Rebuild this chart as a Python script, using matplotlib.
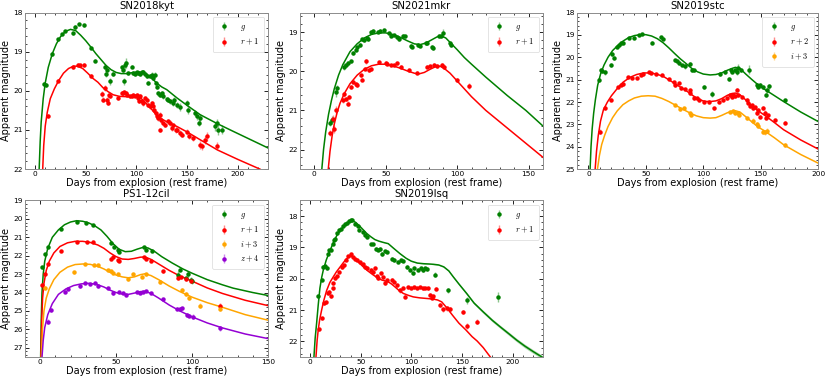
import numpy as np
import matplotlib
matplotlib.use("Agg")
import matplotlib.pyplot as plt
from matplotlib.colors import to_rgba
from matplotlib.ticker import MultipleLocator, AutoMinorLocator

plt.rcParams['font.family'] = 'DejaVu Sans'
plt.rcParams['mathtext.fontset'] = 'cm'

# photometry: days, magnitude, error   /   model: days, magnitude

# ---------------- SN2018kyt ----------------
kyt_g = np.array([[9.2,19.82,0.05],[10.5,19.85,0.05],[17,19.06,0.04],[23,18.68,0.04],[27,18.55,0.03],[29.6,18.47,0.03],
    [37,18.53,0.04],[39.5,18.37,0.04],[43,18.30,0.03],[48,18.33,0.04],[55,18.90,0.03],[59,19.23,0.04],[69,19.38,0.06],
    [70,19.56,0.08],[71.3,19.46,0.06],[74,19.76,0.08],[77.2,19.56,0.05],[85.5,19.38,0.05],[87.1,19.46,0.06],[87.8,19.76,0.08],
    [88.8,19.34,0.1],[89.7,19.29,0.12],[92.1,19.55,0.05],[95.3,19.38,0.04],[97,19.55,0.05],[98.6,19.57,0.05],[100.3,19.53,0.04],
    [101.9,19.55,0.04],[103.6,19.57,0.04],[105.2,19.53,0.04],[106.9,19.51,0.04],[108.5,19.57,0.05],[110.2,19.63,0.05],
    [111.8,19.80,0.06],[113.5,19.63,0.05],[115.1,19.59,0.06],[116.7,19.68,0.05],[118.4,19.59,0.06],[119.4,19.80,0.06],
    [120.7,19.89,0.07],[121.7,20.06,0.06],[123.3,20.10,0.06],[125,20.06,0.06],[126.6,20.14,0.07],[129.9,20.21,0.06],
    [131.6,20.23,0.06],[133.2,20.27,0.07],[135.8,20.30,0.08],[137.2,20.23,0.06],[139.8,20.36,0.07],[143.1,20.42,0.1],
    [150.3,20.31,0.08],[151.3,20.48,0.1],[157.9,20.57,0.08],[159.5,20.65,0.1],[162.8,20.70,0.1],[162.2,20.81,0.08],
    [177.6,20.91,0.12],[179.3,20.81,0.1],[181,20.99,0.15],[184.2,20.99,0.12]])
kyt_r = np.array([[12.5,20.64,0.06],[23,19.74,0.04],[37,19.40,0.04],[42,19.33,0.04],[44.5,19.35,0.04],[48.4,19.34,0.04],
    [55.4,19.62,0.04],[65.7,20.08,0.08],[67.4,20.23,0.06],[69.5,19.92,0.08],[70.7,20.23,0.06],[72,20.30,0.05],[73.3,20.10,0.05],
    [74,20.14,0.05],[82.2,20.19,0.04],[85.5,20.06,0.04],[87.1,20.06,0.04],[87.8,20.02,0.04],[89.7,20.06,0.04],[90.4,20.10,0.04],
    [93.7,20.14,0.04],[95.3,20.14,0.04],[97,20.10,0.04],[98.6,20.13,0.04],[100.3,20.10,0.04],[101.9,20.19,0.04],[102.9,20.27,0.05],
    [103.6,20.14,0.05],[105.2,20.27,0.05],[106.9,20.31,0.08],[108.5,20.19,0.05],[110.2,20.23,0.05],[111.8,20.36,0.05],
    [113.5,20.40,0.06],[115.1,20.31,0.05],[116.1,20.40,0.06],[117.7,20.48,0.06],[119.4,20.57,0.06],[120,20.65,0.07],
    [121.7,20.70,0.06],[123.3,20.61,0.06],[124,20.74,0.07],[123.3,20.99,0.05],[126.6,20.82,0.06],[128.3,20.87,0.06],
    [131.6,20.78,0.06],[133.2,20.82,0.07],[134.9,20.95,0.07],[136.5,20.87,0.06],[139.1,20.99,0.08],[140.4,20.99,0.06],
    [143.1,21.08,0.07],[144.7,21.12,0.07],[150.3,21.04,0.06],[152.3,21.16,0.07],[155.6,21.21,0.07],[162.8,21.38,0.1],
    [164.5,21.42,0.08],[167.8,21.25,0.1],[169.4,21.16,0.12],[179.3,21.40,0.08]])
kyt_g_fit = np.array([[4,22.0],[5,21.3],[6,20.8],[8,20.2],[10,19.8],[13,19.4],[17,19.05],[21,18.8],[25,18.62],[30,18.48],
    [35,18.43],[40,18.46],[45,18.58],[50,18.72],[55,18.88],[60,19.05],[65,19.2],[70,19.35],[75,19.46],[80,19.53],[85,19.56],
    [90,19.56],[95,19.54],[100,19.52],[105,19.52],[110,19.57],[115,19.67],[120,19.8],[125,19.9],[130,19.97],[140,20.18],
    [150,20.37],[163,20.61],[180,20.84],[196,21.04],[213,21.25],[230,21.46]])
kyt_r_fit = np.array([[7.5,22.0],[8.5,21.4],[10,20.9],[12,20.55],[15,20.2],[19,19.95],[23,19.75],[28,19.55],[33,19.43],
    [38,19.37],[42,19.37],[47,19.43],[52,19.55],[57,19.68],[62,19.78],[67,19.92],[72,20.02],[77,20.1],[83,20.14],[90,20.15],
    [97,20.15],[101,20.13],[105,20.2],[110,20.33],[115,20.47],[120,20.62],[125,20.72],[130,20.79],[140,20.91],[150,21.05],
    [163,21.25],[180,21.51],[200,21.75],[222,22.0]])

# ---------------- SN2021mkr ----------------
mkr_g = np.array([[11.2,21.32,0.08],[12.1,21.25,0.1],[15.1,20.53,0.12],[15.8,20.44,0.1],[20.5,19.88,0.08],[22.1,19.84,0.06],
    [23.3,19.80,0.05],[25.6,19.75,0.05],[27.2,19.54,0.05],[29.1,19.45,0.04],[30.2,19.39,0.04],[32.1,19.33,0.04],[33.7,19.18,0.04],
    [34.9,19.2,0.04],[36.7,19.15,0.04],[37.7,19.18,0.04],[40,19.0,0.04],[40.9,18.96,0.04],[44.9,19.0,0.03],[46,18.96,0.03],
    [48.8,18.94,0.03],[52.3,19.03,0.03],[53.5,19.09,0.03],[55.8,19.07,0.03],[58.1,19.13,0.04],[59.3,19.18,0.04],[62.3,19.09,0.03],
    [63.3,19.11,0.03],[67.4,19.35,0.04],[68.6,19.37,0.04],[72.6,19.33,0.04],[74,19.35,0.04],[77.9,19.28,0.04],[79.1,19.27,0.04],
    [82.6,19.37,0.04],[83.3,19.41,0.05],[87.2,19.11,0.05],[88.4,19.09,0.05],[90.2,19.03,0.1],[94.9,19.28,0.04],[96,19.33,0.04]])
mkr_r = np.array([[11.2,21.58,0.08],[12.8,21.21,0.08],[13.5,21.47,0.1],[15.1,21.0,0.1],[19.8,20.74,0.06],[20.9,20.59,0.06],
    [21.9,20.70,0.05],[23.3,20.83,0.06],[24,20.65,0.05],[26,20.41,0.05],[27.4,20.27,0.05],[29.3,20.33,0.05],[30.2,20.35,0.05],
    [32.6,20.1,0.04],[33.7,20.22,0.04],[35.3,19.93,0.05],[36.3,19.75,0.06],[38.4,19.97,0.04],[39.5,19.93,0.04],[45.3,19.77,0.04],
    [50,19.78,0.03],[51.2,19.81,0.03],[54,19.84,0.03],[55.8,19.84,0.03],[57.7,19.80,0.03],[60.5,19.88,0.04],[66.3,19.97,0.04],
    [72.1,20.04,0.04],[79.1,19.88,0.04],[80.9,19.87,0.04],[83.7,19.84,0.05],[86,19.87,0.05],[89.5,19.84,0.04],[90.7,19.88,0.05],
    [100,20.23,0.05],[108.1,20.38,0.07]])
mkr_g_fit = np.array([[5.3,22.5],[6.5,22.0],[8,21.55],[10,21.1],[12,20.75],[14,20.45],[17,20.1],[20,19.83],[25,19.5],
    [30,19.3],[35,19.15],[40,19.06],[45,19.02],[50,19.02],[55,19.06],[60,19.13],[65,19.22],[70,19.3],[74,19.32],[78,19.28],
    [82,19.2],[86,19.12],[89,19.1],[92,19.15],[96,19.3],[100,19.45],[105,19.65],[110,19.82],[120,20.15],[135,20.62],
    [148,21.0],[160,21.4]])
mkr_r_fit = np.array([[9.8,22.5],[11,22.05],[12.5,21.65],[14,21.35],[16,21.05],[18,20.82],[21,20.57],[25,20.32],[30,20.1],
    [35,19.95],[40,19.86],[45,19.82],[50,19.82],[55,19.86],[60,19.92],[65,19.99],[70,20.05],[73,20.07],[77,20.03],[81,19.95],
    [85,19.88],[88,19.87],[91,19.93],[95,20.05],[100,20.25],[105,20.45],[110,20.65],[120,21.0],[135,21.45],[150,21.9],[160,22.2]])

# ---------------- SN2019stc ----------------
stc_g = np.array([[9.2,21.01,0.1],[10.7,20.56,0.1],[12.2,20.62,0.08],[14.2,20.68,0.1],[19.4,20.34,0.08],[20.8,19.85,0.08],
    [22.3,20.04,0.08],[25.1,19.52,0.06],[26.6,19.45,0.06],[28.6,19.37,0.05],[30.3,19.34,0.05],[35.3,19.15,0.05],[39.6,19.12,0.05],
    [44,19.0,0.04],[46.8,18.98,0.04],[55.5,19.34,0.06],[63.3,19.10,0.05],[64.7,19.19,0.05],[75.7,20.12,0.06],[77.2,20.16,0.06],
    [78.6,20.27,0.08],[81.5,20.34,0.06],[84.4,20.41,0.1],[88.7,20.29,0.08],[90.2,20.56,0.08],[92.2,20.59,0.06],[100.9,21.34,0.08],
    [107.5,21.64,0.15],[114.2,20.74,0.08],[119.1,20.68,0.08],[122.8,20.98,0.1],[124,20.56,0.1],[124.9,20.64,0.08],
    [127.7,20.56,0.1],[129.2,20.64,0.15],[130.6,20.49,0.2],[132.7,20.56,0.08],[140.2,20.56,0.2],[146.5,21.23,0.1],
    [148,21.31,0.08],[149.5,21.26,0.1],[152.3,21.34,0.1],[154.6,21.68,0.1],[155.8,21.46,0.12],[157,21.3,0.1],[171.1,21.93,0.06]])
stc_r = np.array([[10.1,23.32,0.1],[14.2,22.28,0.08],[19.4,21.90,0.06],[26,21.34,0.05],[28,21.23,0.05],[30,21.2,0.05],
    [34.4,20.89,0.05],[38.2,20.94,0.04],[42.5,20.94,0.04],[45.4,20.79,0.04],[47.7,20.74,0.04],[52.6,20.68,0.04],[54.5,20.72,0.04],
    [58.4,20.74,0.04],[64.2,20.79,0.05],[69.9,20.98,0.05],[74.3,21.09,0.05],[75.7,21.23,0.08],[78.6,21.16,0.05],[80.6,21.38,0.08],
    [84.4,21.43,0.06],[88.2,21.46,0.06],[88.7,21.61,0.08],[91.6,21.83,0.1],[94.5,21.83,0.06],[96,21.90,0.06],[100.3,21.98,0.06],
    [104.6,21.98,0.06],[109,22.28,0.06],[113.3,21.98,0.06],[117,21.90,0.06],[120.5,21.83,0.06],[123.4,21.68,0.06],[124.9,21.76,0.06],
    [126.3,21.68,0.06],[127.7,21.75,0.06],[129.2,21.46,0.08],[130.6,21.70,0.06],[133.5,21.79,0.06],[137.9,21.90,0.06],
    [139.3,22.05,0.06],[140.8,22.20,0.06],[142.2,22.15,0.06],[143.6,22.28,0.06],[145,22.22,0.06],[146.5,22.50,0.08],
    [148,22.35,0.06],[149.4,22.65,0.08],[152.3,22.28,0.08],[153.8,22.47,0.1],[154.6,22.7,0.08],[156.6,22.58,0.06],
    [162.4,22.80,0.06],[171.1,22.92,0.06]])
stc_i = np.array([[75.7,22.13,0.06],[80.1,22.32,0.06],[82.9,22.28,0.06],[88.7,22.50,0.06],[89.6,22.58,0.06],[123.4,22.43,0.06],
    [125.5,22.38,0.06],[127.7,22.47,0.06],[130.6,22.50,0.06],[131.5,22.58,0.06],[137.9,22.73,0.08],[143.6,22.83,0.1],
    [146.5,22.98,0.08],[148,23.07,0.08],[152.3,23.32,0.1],[153.8,23.36,0.12],[155.8,23.28,0.1],[171.1,23.93,0.1]])
stc_g_fit = np.array([[1.4,25],[2.2,24.0],[3.2,23.2],[4.5,22.5],[6,21.9],[8,21.25],[10.5,20.75],[13.5,20.35],[17,20.0],
    [21,19.7],[25,19.5],[30,19.28],[35,19.12],[40,19.03],[45,18.99],[50,18.99],[55,19.05],[60,19.17],[65,19.35],[70,19.58],
    [75,19.83],[80,20.07],[85,20.28],[90,20.5],[95,20.65],[100,20.75],[106,20.79],[111,20.77],[116,20.7],[121,20.58],
    [125,20.5],[128,20.45],[132,20.5],[137,20.75],[142,20.98],[147,21.2],[153,21.42],[160,21.65],[170,21.98],[185,22.45],
    [200,22.87]])
stc_r_fit = np.array([[5.8,25],[7,24.2],[8.5,23.5],[10.5,22.85],[13,22.35],[16.5,22.0],[20,21.72],[25,21.4],[30,21.12],
    [36,20.9],[42,20.77],[48,20.7],[54,20.7],[60,20.76],[66,20.88],[72,21.07],[78,21.27],[84,21.45],[90,21.68],[96,21.88],
    [101,21.97],[106,21.98],[111,21.95],[116,21.85],[121,21.7],[125,21.62],[128,21.6],[132,21.68],[138,21.95],[143,22.2],
    [148,22.4],[155,22.65],[162,22.92],[170,23.24],[185,23.7],[200,24.1]])
stc_i_fit = np.array([[7.8,25],[9.5,24.4],[11.5,23.9],[14,23.5],[17,23.1],[21,22.7],[25,22.4],[30,22.12],[35,21.95],
    [40,21.82],[46,21.74],[52,21.72],[58,21.74],[64,21.84],[70,21.98],[76,22.15],[82,22.32],[88,22.48],[94,22.62],[100,22.7],
    [106,22.72],[111,22.7],[116,22.6],[121,22.48],[125,22.41],[128,22.39],[132,22.45],[138,22.7],[143,22.92],[148,23.12],
    [155,23.35],[162,23.6],[170,23.91],[185,24.35],[200,24.73]])

# ---------------- PS1-12cil ----------------
cil_g = np.array([[1.5,22.64,0.06],[3,21.91,0.06],[5,21.53,0.05],[13.8,20.55,0.05],[24.1,20.16,0.04],[30.2,20.22,0.04],
    [34.6,20.31,0.05],[46.4,21.31,0.05],[48.6,21.53,0.05],[51.5,21.67,0.05],[52.1,21.82,0.05],[68.3,21.53,0.05],[70,21.67,0.05],
    [73.4,21.73,0.05],[90.9,23.05,0.2],[92,22.76,0.08],[96.3,23.2,0.1],[97.4,23.0,0.15],[99,23.31,0.15],[100,23.4,0.12]])
cil_r = np.array([[1.5,23.58,0.08],[3,23.0,0.07],[5,22.44,0.06],[13.8,21.76,0.05],[24.5,21.25,0.04],[30.7,21.25,0.04],
    [34.6,21.25,0.04],[46.4,22.16,0.05],[48.2,22.09,0.05],[51.5,22.22,0.05],[52.1,22.27,0.05],[68.3,22.09,0.05],[70,22.16,0.05],
    [72.7,22.27,0.05],[81,22.85,0.1],[90.9,23.22,0.12],[93,23.18,0.08],[96.3,23.25,0.1],[99,23.4,0.1],[118.2,24.71,0.15]])
cil_i = np.array([[3.5,23.76,0.1],[22.3,22.89,0.08],[29.6,22.45,0.06],[35.7,22.49,0.06],[38.3,22.49,0.06],[44.9,22.76,0.06],
    [46.6,22.82,0.06],[48.2,22.95,0.06],[51.5,23.0,0.06],[58,23.27,0.08],[60.9,23.0,0.08],[66.8,23.13,0.08],[70,23.0,0.08],
    [78.8,23.44,0.08],[93.7,23.85,0.1],[95.7,24.07,0.1],[97.9,24.31,0.12],[105.1,24.71,0.12],[118.2,24.89,0.12]])
cil_z = np.array([[5,25.58,0.15],[7.2,24.95,0.1],[16.4,23.95,0.08],[18.6,23.8,0.08],[26.3,23.67,0.06],[29.6,23.49,0.06],
    [32.8,23.53,0.06],[36.1,23.49,0.06],[38.3,23.67,0.08],[44.9,23.76,0.06],[48.2,24.04,0.08],[52.1,23.98,0.06],[54.7,24.04,0.06],
    [56.3,24.13,0.06],[63.5,23.98,0.06],[65.7,24.0,0.06],[67.4,23.95,0.06],[70,23.91,0.06],[72.7,24.04,0.06],[80.6,24.35,0.08],
    [89.8,24.89,0.08],[91.9,24.89,0.08],[93.7,24.85,0.08],[96.8,25.22,0.1],[98.1,25.25,0.1],[100.7,25.31,0.15],[118.7,25.95,0.12]])
cil_g_fit = np.array([[0.3,27.5],[0.7,25.5],[1.2,24.0],[2,23.0],[3,22.3],[5,21.6],[8,21.0],[12,20.6],[16,20.32],[20,20.17],
    [24,20.1],[28,20.13],[32,20.22],[36,20.38],[40,20.6],[44,20.95],[48,21.35],[52,21.65],[56,21.78],[60,21.76],[64,21.64],
    [68,21.54],[71,21.58],[75,21.75],[80,22.05],[87,22.4],[94,22.72],[100,22.95],[110,23.3],[120,23.58],[127,23.76],
    [140,24.0],[150,24.16]])
cil_r_fit = np.array([[0.5,27.5],[1,25.5],[1.6,24.3],[2.5,23.5],[4,22.8],[6,22.3],[9,21.85],[13,21.5],[18,21.3],[23,21.22],
    [28,21.22],[33,21.28],[38,21.42],[42,21.6],[46,21.85],[50,22.05],[54,22.18],[58,22.2],[62,22.15],[66,22.08],[69,22.07],
    [73,22.2],[78,22.45],[85,22.8],[92,23.1],[100,23.38],[110,23.75],[120,24.05],[135,24.42],[150,24.71]])
cil_i_fit = np.array([[0.8,27.5],[1.5,26.0],[2.5,25.0],[4,24.3],[6,23.8],[9,23.3],[13,22.9],[18,22.62],[23,22.48],[28,22.45],
    [33,22.47],[38,22.58],[42,22.72],[46,22.9],[50,23.05],[54,23.15],[58,23.2],[62,23.15],[66,23.03],[69,22.98],[73,23.08],
    [78,23.3],[85,23.65],[92,23.95],[100,24.25],[110,24.55],[120,24.8],[135,25.2],[150,25.5]])
cil_z_fit = np.array([[1.2,27.5],[2,26.6],[3,25.9],[5,25.2],[8,24.6],[12,24.1],[17,23.8],[22,23.62],[27,23.53],[32,23.5],
    [37,23.55],[42,23.7],[46,23.87],[50,24.0],[54,24.08],[58,24.1],[62,24.03],[66,23.95],[69,23.93],[73,24.05],[78,24.3],
    [85,24.68],[92,25.0],[100,25.32],[110,25.65],[120,25.92],[135,26.25],[150,26.5]])

# ---------------- SN2019lsq ----------------
lsq_g = np.array([[8.1,20.56,0.05],[11.4,20.03,0.05],[13,19.62,0.05],[14.6,19.6,0.05],[16.3,19.67,0.04],[18,19.2,0.04],
    [19,19.09,0.04],[20.3,19.07,0.04],[22.3,18.88,0.04],[23.6,18.77,0.03],[24.6,18.72,0.03],[26.9,18.54,0.03],[28.8,18.45,0.03],
    [30.2,18.4,0.03],[32.1,18.33,0.03],[34.4,18.24,0.03],[36.1,18.22,0.03],[38.7,18.16,0.03],[40,18.11,0.03],[41,18.14,0.03],
    [44.3,18.24,0.03],[47.6,18.33,0.03],[48.6,18.43,0.04],[51.9,18.51,0.03],[54.2,18.61,0.03],[56.5,18.67,0.03],[59.8,18.88,0.03],
    [61.8,18.9,0.03],[65.1,19.04,0.04],[67.4,19.07,0.04],[69,19.04,0.04],[70.7,19.2,0.06],[74,19.11,0.04],[76.2,19.14,0.04],
    [80.5,19.36,0.04],[82.8,19.41,0.04],[87.1,19.46,0.05],[89.4,19.41,0.04],[91.4,19.43,0.05],[96,19.62,0.06],[98.6,19.71,0.05],
    [101.3,19.83,0.06],[102.6,19.67,0.05],[106.9,19.71,0.05],[109.2,19.67,0.05],[111.8,19.73,0.05],[113.5,19.67,0.05],
    [115.1,19.7,0.05],[123.3,19.87,0.08],[136.5,20.37,0.08],[154.6,20.69,0.12],[185.9,20.58,0.15]])
lsq_r = np.array([[9.1,21.62,0.06],[12.1,21.27,0.06],[13.7,20.79,0.05],[15.5,20.75,0.05],[18,20.47,0.05],[19,20.42,0.05],
    [20.3,20.56,0.05],[22.3,20.31,0.04],[22.9,20.15,0.04],[24.6,19.99,0.04],[26.2,19.92,0.04],[28.8,19.78,0.04],[31.1,19.64,0.04],
    [33.5,19.57,0.04],[35.4,19.41,0.03],[37.7,19.28,0.03],[40,19.2,0.03],[42,19.3,0.03],[44.3,19.36,0.03],[46.6,19.41,0.03],
    [49.3,19.46,0.03],[51.9,19.52,0.03],[54.2,19.62,0.03],[56.5,19.67,0.04],[59.8,19.71,0.04],[61.8,19.78,0.04],[64.1,19.67,0.04],
    [66.4,19.92,0.05],[67.5,19.98,0.05],[69.7,19.83,0.05],[71.6,19.96,0.05],[74,20.13,0.06],[76.2,20.05,0.05],[80.5,20.03,0.04],
    [82.8,20.1,0.04],[86.1,20.21,0.05],[88.8,20.37,0.07],[91.4,20.31,0.05],[93.7,20.58,0.05],[97,20.28,0.04],[99.3,20.3,0.04],
    [102.6,20.28,0.04],[105.2,20.3,0.04],[108.5,20.26,0.04],[111.2,20.31,0.04],[113.5,20.3,0.04],[116.7,20.31,0.04],
    [118.4,20.52,0.06],[120,20.6,0.06],[121,20.56,0.05],[124.3,20.32,0.05],[128.3,20.84,0.07],[131.6,20.98,0.07],
    [134.9,20.95,0.07],[138.2,20.98,0.08],[151.3,21.06,0.06],[154.6,21.51,0.1],[165.1,21.37,0.08]])
# days, magnitude, half-width of the model band
lsq_g_fit = np.array([[3.8,22.5,0],[5,21.9,0],[6.5,21.4,0],[8,20.85,0],[9.7,20.3,0],[11.5,19.95,0],[13,19.73,0],
    [16,19.4,0],[19.6,19.1,0],[23,18.85,0],[26.2,18.63,0],[30,18.45,0],[33,18.34,0],[36,18.24,0],[39.4,18.16,0],[42,18.15,0],
    [45,18.2,0],[49.3,18.33,0],[55.8,18.55,0.005],[60,18.66,0.005],[64,18.75,0.005],[68,18.8,0.005],[72.3,18.84,0.005],
    [77.2,18.88,0.005],[82.2,19.02,0.01],[88.8,19.2,0.01],[95,19.35,0.01],[100,19.44,0.01],[106,19.5,0.01],[112,19.52,0.01],
    [118,19.53,0.01],[122,19.54,0.015],[127,19.56,0.015],[132,19.62,0.02],[137,19.75,0.02],[141.4,19.94,0.025],
    [147,20.17,0.03],[154.6,20.47,0.035],[162,20.78,0.04],[171,21.06,0.045],[180,21.33,0.05],[187.5,21.53,0.05],
    [196,21.75,0.055],[204,21.96,0.055],[212,22.15,0.06],[220.5,22.33,0.06],[230,22.52,0.06]])
lsq_r_fit = np.array([[5.8,22.5],[7,21.95],[8.1,21.62],[9.5,21.3],[11.4,21.0],[13.5,20.7],[16.3,20.38],[19.5,20.12],
    [22.9,19.94],[26,19.78],[29.5,19.63],[33,19.48],[36.1,19.36],[39,19.3],[41,19.29],[43.5,19.33],[45.9,19.41],[49,19.51],
    [52.5,19.62],[57,19.75],[62.4,19.88],[67,19.98],[70.7,20.04],[74,20.07],[77.2,20.1],[80.5,20.17],[83.8,20.26],[88,20.38],
    [92.1,20.47],[97,20.53],[101.9,20.58],[108,20.61],[115.1,20.63],[121.7,20.65],[126,20.68],[130,20.74],[135,20.93],
    [141,21.18],[147,21.42],[154,21.64],[160,21.85],[165,21.99],[171,22.2],[178,22.5]])

G, R, O, P = 'green', 'red', 'orange', 'darkviolet'


def panel(ax, title, sets, xlim, ylim):
    for lab, col, pts, fit in sets:
        if fit.shape[1] == 3:
            ax.fill_between(fit[:, 0], fit[:, 1] - fit[:, 2], fit[:, 1] + fit[:, 2],
                            color=col, alpha=0.3, lw=0, zorder=1)
        ax.plot(fit[:, 0], fit[:, 1], color=col, lw=1.1, zorder=2)
        ax.errorbar(pts[:, 0], pts[:, 1], yerr=pts[:, 2], fmt='o', ms=2.2, color=col,
                    ecolor=to_rgba(col, 0.45), elinewidth=1.0, capsize=0, label=lab, zorder=3)
    ax.set_xlim(*xlim)
    ax.set_ylim(*ylim)
    ax.set_title(title, fontsize=7.3, pad=2.5)
    ax.set_xlabel("Days from explosion (rest frame)", fontsize=7, labelpad=0.5)
    ax.set_ylabel("Apparent magnitude", fontsize=7, labelpad=1.5)
    ax.xaxis.set_major_locator(MultipleLocator(50))
    ax.yaxis.set_major_locator(MultipleLocator(1))
    ax.xaxis.set_minor_locator(AutoMinorLocator())
    ax.yaxis.set_minor_locator(AutoMinorLocator())
    ax.tick_params(which='both', direction='in', top=True, right=True, labelsize=5.3, pad=1.5)
    ax.tick_params(which='major', length=3, width=0.6)
    ax.tick_params(which='minor', length=1.6, width=0.5)
    for s in ax.spines.values():
        s.set_color('0.55')
        s.set_linewidth(0.7)
    leg = ax.legend(loc='upper right', fontsize=6, handlelength=1.5, borderpad=0.6,
                    labelspacing=0.5, handletextpad=1.2, framealpha=1)
    leg.get_frame().set_linewidth(0.5)
    leg.get_frame().set_edgecolor('0.85')


fig = plt.figure(figsize=(8.3, 3.8), dpi=100)
W, H = 0.2928, 0.412
ax1 = fig.add_axes([0.0301, 0.555, W, H])
ax2 = fig.add_axes([0.3614, 0.555, W, H])
ax3 = fig.add_axes([0.6952, 0.555, 0.2904, H])
ax4 = fig.add_axes([0.0301, 0.0605, W, H])
ax5 = fig.add_axes([0.3614, 0.0605, W, H])

panel(ax1, "SN2018kyt", [('$g$', G, kyt_g, kyt_g_fit), ('$r+1$', R, kyt_r, kyt_r_fit)], (-10, 230), (22, 18))
panel(ax2, "SN2021mkr", [('$g$', G, mkr_g, mkr_g_fit), ('$r+1$', R, mkr_r, mkr_r_fit)], (-10, 160), (22.5, 18.5))
panel(ax3, "SN2019stc", [('$g$', G, stc_g, stc_g_fit), ('$r+2$', R, stc_r, stc_r_fit),
                         ('$i+3$', O, stc_i, stc_i_fit)], (-10, 200), (25, 18))
panel(ax4, "PS1-12cil", [('$g$', G, cil_g, cil_g_fit), ('$r+1$', R, cil_r, cil_r_fit),
                         ('$i+3$', O, cil_i, cil_i_fit), ('$z+4$', P, cil_z, cil_z_fit)], (-10, 150), (27.5, 19))
panel(ax5, "SN2019lsq", [('$g$', G, lsq_g, lsq_g_fit), ('$r+1$', R, lsq_r, lsq_r_fit)], (-10, 230), (22.5, 17.5))

fig.savefig("out.png", dpi=100)
